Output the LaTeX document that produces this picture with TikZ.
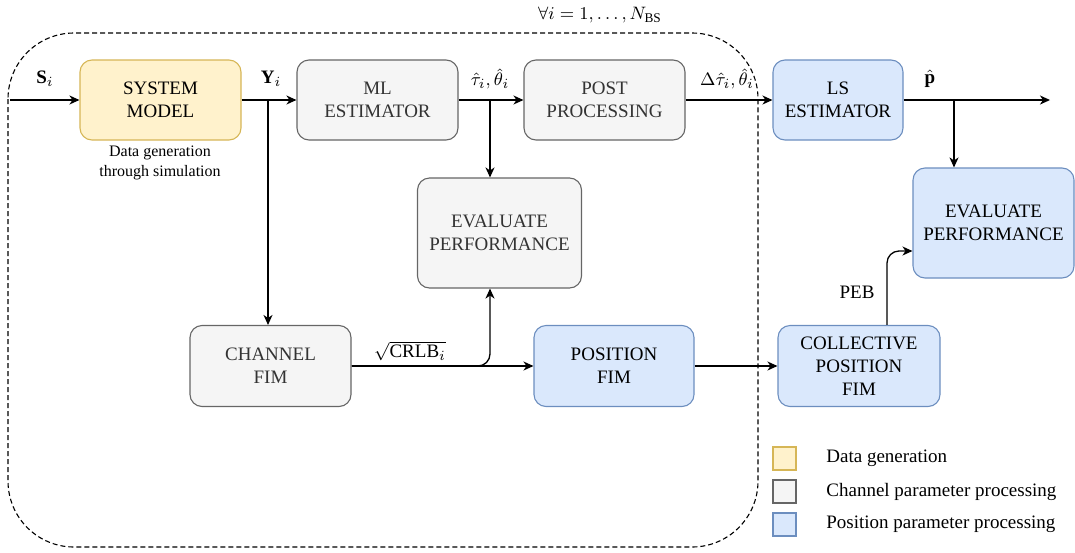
\documentclass[tikz,border=0pt]{standalone}
\usepackage{amsmath,amssymb}
\usepackage{fontspec}
\setmainfont{Liberation Serif}
\usepackage{tikz}
\usetikzlibrary{arrows.meta}

\definecolor{datafill}{HTML}{FFF2CC}
\definecolor{dataline}{HTML}{D6B656}
\definecolor{chanfill}{HTML}{F5F5F5}
\definecolor{chanline}{HTML}{666666}
\definecolor{chantext}{HTML}{333333}
\definecolor{posfill}{HTML}{DAE8FC}
\definecolor{posline}{HTML}{6C8EBF}

\begin{document}
\begin{tikzpicture}[x=0.5pt,y=-0.5pt,
    blk/.style={rounded corners=6pt,line width=0.55pt,align=center,inner sep=0pt,
        font=\fontsize{9.5}{11.5}\selectfont},
    databox/.style={blk,fill=datafill,draw=dataline},
    chanbox/.style={blk,fill=chanfill,draw=chanline,text=chantext},
    posbox/.style={blk,fill=posfill,draw=posline},
    lbl/.style={font=\fontsize{9.5}{11.5}\selectfont,inner sep=0pt},
    flow/.style={line width=0.65pt,-{Stealth[length=5pt,width=4.5pt,inset=1.5pt]}}]
\useasboundingbox (0,0) rectangle (1075,552);

% loop over base stations
\draw[line width=0.55pt,dash pattern=on 2.5pt off 1.5pt,rounded corners=33pt]
    (8,33) rectangle (758,547);
\node[lbl] (loop) at (600,15) {$\forall i = 1,\ldots,N_{\mathrm{BS}}$};

% blocks
\node[databox,minimum width=80.5pt,minimum height=40pt] (sysmodel) at (160.5,100) {SYSTEM\\MODEL};
\node[lbl,font=\fontsize{8}{10}\selectfont,align=center] (simnote) at (160,163) {Data generation\\through simulation};
\node[chanbox,minimum width=80.5pt,minimum height=40pt] (mlest) at (377.5,100) {ML\\ESTIMATOR};
\node[chanbox,minimum width=80.5pt,minimum height=40pt] (postproc) at (604.5,100) {POST\\PROCESSING};
\node[posbox,minimum width=65pt,minimum height=40pt] (lsest) at (838,100) {LS\\ESTIMATOR};
\node[chanbox,minimum width=82pt,minimum height=55pt] (evalchan) at (499.5,233) {EVALUATE\\PERFORMANCE};
\node[posbox,minimum width=80.5pt,minimum height=55pt] (evalpos) at (993.5,223) {EVALUATE\\PERFORMANCE};
\node[chanbox,minimum width=80.5pt,minimum height=40.5pt] (chanfim) at (270.5,366) {CHANNEL\\FIM};
\node[posbox,minimum width=80pt,minimum height=40.5pt] (posfim) at (614,366) {POSITION\\FIM};
\node[posbox,minimum width=81pt,minimum height=40.5pt] (collfim) at (859,366) {COLLECTIVE\\POSITION\\FIM};

% branch points
\coordinate (sin) at (10,100);
\coordinate (ybr) at (268,100);
\coordinate (tbr) at (490,100);
\coordinate (pout) at (1050,100);
\coordinate (pbr) at (954,100);
\coordinate (cbr) at (490,366);
\coordinate (peb) at (887,251);

% connectors
\draw[flow] (sin) -- (sysmodel.west);
\draw[flow] (sysmodel.east) -- (mlest.west);
\draw[flow] (ybr) -- (ybr |- chanfim.north);
\draw[flow] (mlest.east) -- (postproc.west);
\draw[flow] (tbr) -- (tbr |- evalchan.north);
\draw[flow] (postproc.east) -- (lsest.west);
\draw[flow] (lsest.east) -- (pout);
\draw[flow] (pbr) -- (pbr |- evalpos.north);
\draw[flow] (chanfim.east) -- (posfim.west);
\draw[flow,rounded corners=6pt] (chanfim.east) -- (cbr) -- (cbr |- evalchan.south);
\draw[flow] (posfim.east) -- (collfim.west);
\draw[flow,rounded corners=6pt] (peb |- collfim.north) |- (peb -| evalpos.west);

% edge labels
\node[lbl] (slbl) at (45,79) {$\mathbf{S}_i$};
\node[lbl] (ylbl) at (271,79) {$\mathbf{Y}_i$};
\node[lbl] (tlbl) at (490,79) {$\hat{\tau}_i,\hat{\theta}_i$};
\node[lbl] (dlbl) at (727,79) {$\Delta\hat{\tau}_i,\hat{\theta}_i$};
\node[lbl] (plbl) at (930,79) {$\hat{\mathbf{p}}$};
\node[lbl] (crlb) at (410,351) {$\sqrt{\mathrm{CRLB}_i}$};
\node[lbl] (peblbl) at (857,292) {PEB};

% legend
\foreach \y/\sty/\txt in {458.5/databox/Data generation,
                          491.5/chanbox/Channel parameter processing,
                          524.5/posbox/Position parameter processing} {
    \node[\sty,rounded corners=0pt,minimum size=11.5pt] at (784.5,\y) {};
    \node[lbl,anchor=west,text=black] at (826,\y) {\txt};
}
\end{tikzpicture}
\end{document}
